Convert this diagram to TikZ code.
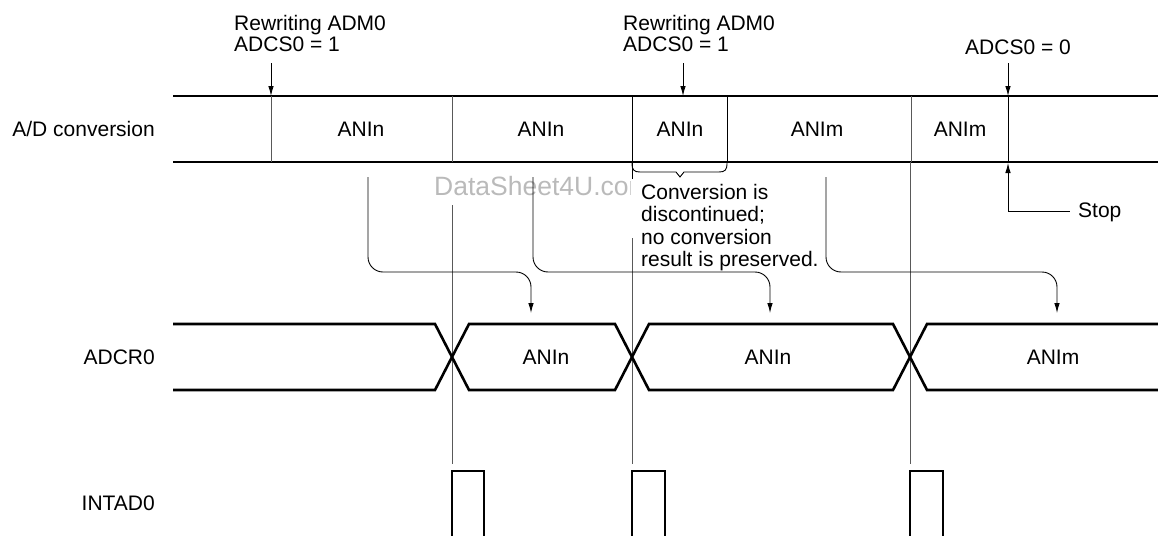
\documentclass[tikz,border=0pt]{standalone}
\usepackage{fontspec}
\setmainfont{Liberation Sans}
\usetikzlibrary{arrows.meta}
\begin{document}
\begin{tikzpicture}[x=1pt,y=-1pt,
  busline/.style={line width=2.6pt},
  thinline/.style={line width=0.9pt},
  tline/.style={line width=0.9pt, black!65},
  arr/.style={-{Latex[length=10pt,width=5.5pt]}, line width=0.9pt},
  lbl/.style={font=\fontsize{21}{21}\selectfont, inner sep=0pt},
  sig/.style={lbl, anchor=east},
  val/.style={lbl},
  note/.style={lbl, align=left, anchor=base west},
]
\useasboundingbox (0,0) rectangle (1158,535);

% signal names
\node[sig] (lad) at (155,129) {A/D conversion};
\node[sig] (ladcr) at (155,357) {ADCR0};
\node[sig] (lint) at (155,503) {INTAD0};

% ---- A/D conversion bus
\draw[busline] (173,96) -- (1158,96);
\draw[busline] (173,162) -- (1158,162);
\foreach \x in {271,452,911} \draw[tline] (\x,96) -- (\x,162);
\draw[thinline] (632,96) -- (632,179);
\draw[thinline] (727,96) -- (727,163);
\draw[thinline] (1008,96) -- (1008,162);

\node[val] (b1) at (361,129) {ANIn};
\node[val] (b2) at (541,129) {ANIn};
\node[val] (b3) at (680,129) {ANIn};
\node[val] (b4) at (817,129) {ANIm};
\node[val] (b5) at (960,129) {ANIm};

% brace
\draw[thinline] (632,163) .. controls (632,170) and (634,172) .. (640,172) -- (676,172) -- (680,177) -- (684,172) -- (719,172) .. controls (725,172) and (727,170) .. (727,163);

% top notes
\node[note] (n1) at (234,52) {Rewriting ADM0\\ADCS0 = 1};
\node[note] (n2) at (623,52) {Rewriting ADM0\\ADCS0 = 1};
\node[note] (n3) at (965,55) {ADCS0 = 0};
\coordinate (t1a) at (271,63); \coordinate (t1b) at (271,96);
\coordinate (t2a) at (683,63); \coordinate (t2b) at (683,96);
\coordinate (t3a) at (1008,63); \coordinate (t3b) at (1008,96);
\draw[arr] (t1a) -- (t1b);
\draw[arr] (t2a) -- (t2b);
\draw[arr] (t3a) -- (t3b);

% stop
\coordinate (s0) at (1008,211);
\coordinate (s1) at (1008,163);
\coordinate (s2) at (1070,211);
\draw[arr] (s0) -- (s1);
\draw[thinline] (s0) -- (s2);
\node[lbl, anchor=west] (stop) at (1078,212) {Stop};

% watermark
\begin{scope}
\clip (0,0) rectangle (630,535);
\node[lbl, font=\fontsize{26.5}{28}\selectfont, text=black!27, anchor=west] (wm) at (434,186) {DataSheet4U.com};
\end{scope}

% note text
\node[lbl, align=left, anchor=north west, font=\fontsize{21}{22.5}\selectfont] (conv) at (641,184) {Conversion is\\discontinued;\\no conversion\\result is preserved.};

% timing lines
\draw[tline] (452,205) -- (452,464);
\draw[tline] (632,238) -- (632,464);
\draw[tline] (910,162) -- (910,464);

% curved arrows
\coordinate (a1s) at (368,177); \coordinate (a1m) at (531,272); \coordinate (a1e) at (531,313);
\coordinate (a2s) at (533,177); \coordinate (a2m) at (770,272); \coordinate (a2e) at (770,313);
\coordinate (a3s) at (826,177); \coordinate (a3m) at (1057,272); \coordinate (a3e) at (1057,313);
\draw[arr, rounded corners=15pt] (a1s) |- (a1m) -- (a1e);
\draw[arr, rounded corners=15pt] (a2s) |- (a2m) -- (a2e);
\draw[arr, rounded corners=15pt] (a3s) |- (a3m) -- (a3e);

% ---- ADCR0 bus
\draw[busline] (173,324) -- (435,324) -- (469,390) -- (615,390) -- (649,324) -- (893,324) -- (927,390) -- (1158,390);
\draw[busline] (173,390) -- (435,390) -- (469,324) -- (615,324) -- (649,390) -- (893,390) -- (927,324) -- (1158,324);
\node[val] (d1) at (546,357) {ANIn};
\node[val] (d2) at (768,357) {ANIn};
\node[val] (d3) at (1053,357) {ANIm};

% ---- INTAD0 pulses
\draw[busline] (452,536) -- (452,471) -- (484,471) -- (484,536);
\draw[busline] (632,536) -- (632,471) -- (665,471) -- (665,536);
\draw[busline] (910,536) -- (910,471) -- (943,471) -- (943,536);
\end{tikzpicture}
\end{document}
